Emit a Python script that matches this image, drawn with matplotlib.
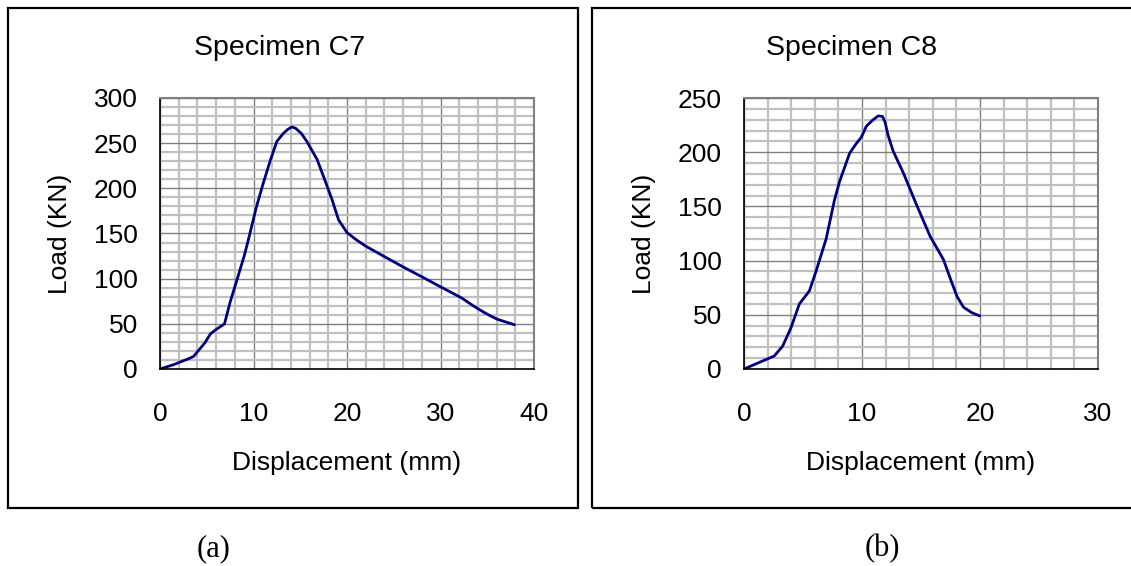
import matplotlib
matplotlib.use("Agg")
import matplotlib.pyplot as plt
from matplotlib.patches import Rectangle
from matplotlib.ticker import MultipleLocator

plt.rcParams['font.family'] = ['Liberation Sans', 'DejaVu Sans']

# Specimen C7
c7_disp = [0, 1.5, 3.2, 3.6, 4.8, 5.4, 5.9, 6.9, 7.5, 8.3, 9.0, 9.45, 10.3, 11.05,
           11.8, 12.5, 13.2, 13.7, 14.1, 14.5, 15.1, 15.7, 16.8, 17.6, 18.4, 19.1,
           20.0, 21.0, 22.0, 23.9, 26.0, 28.2, 30.0, 32.2, 33.5, 34.6, 35.4, 36.1,
           37.0, 37.9]
c7_load = [0, 5, 12, 14, 29, 39, 43, 50, 74, 101, 125, 143, 179, 206,
           231, 252, 261, 265.5, 268, 266.5, 261, 252, 232, 210, 187.5, 165,
           151, 143, 136, 125, 113, 101, 91, 79, 70, 63, 58.5, 55,
           52, 49]

# Specimen C8
c8_disp = [0, 2.56, 3.27, 3.98, 4.69, 5.54, 6.1, 6.96, 7.67, 8.1, 8.95, 9.45, 9.95,
           10.37, 10.9, 11.37, 11.73, 11.95, 12.2, 12.64, 13.5, 14.6, 15.77, 16.9,
           17.6, 18.05, 18.6, 19.3, 19.97]
c8_load = [0, 12, 21, 38, 60, 72, 90, 120, 156, 173, 199, 207, 214,
           224, 229.5, 233.5, 233, 228, 216, 201, 181, 152, 122.5, 101,
           80, 67, 57, 52, 49]

W, H = 1131, 566
fig = plt.figure(figsize=(W / 100, H / 100), dpi=100)


def box(x0, y0, x1, y1):
    # pixel box (top-left origin) -> figure fraction rect
    return [x0 / W, 1 - y1 / H, (x1 - x0) / W, (y1 - y0) / H]


# outer frames
for x0, x1 in [(8, 578), (592, 1145)]:
    r = box(x0, 8, x1, 508)
    fig.add_artist(Rectangle((r[0], r[1]), r[2], r[3], transform=fig.transFigure,
                             fill=False, edgecolor='black', linewidth=1.6))


def panel(rect, x, y, xmax, ymax, title, title_x, tag, tag_x):
    ax = fig.add_axes(box(*rect))
    ax.plot(x, y, color='#000080', linewidth=2.0, solid_capstyle='round',
            solid_joinstyle='round')
    ax.set_xlim(0, xmax)
    ax.set_ylim(0, ymax)
    ax.xaxis.set_major_locator(MultipleLocator(10))
    ax.xaxis.set_minor_locator(MultipleLocator(2))
    ax.yaxis.set_major_locator(MultipleLocator(50))
    ax.yaxis.set_minor_locator(MultipleLocator(10))
    ax.grid(which='minor', color='#c0c0c0', linewidth=1.6)
    ax.grid(which='major', color='#808080', linewidth=1.0)
    ax.set_axisbelow(True)
    ax.tick_params(which='both', length=0, labelsize=19)
    ax.tick_params(axis='x', pad=24)
    ax.tick_params(axis='y', pad=16)
    for s in ['top', 'right']:
        ax.spines[s].set_color('#808080')
        ax.spines[s].set_linewidth(1.5)
    for s in ['left', 'bottom']:
        ax.spines[s].set_color('black')
        ax.spines[s].set_linewidth(1.2)
    ax.set_xlabel('Displacement (mm)', fontsize=19, labelpad=18)
    ax.set_ylabel('Load (KN)', fontsize=19, labelpad=16)
    fig.text(title_x / W, 1 - 48 / H, title, fontsize=20.5, ha='center', va='center')
    fig.text(tag_x / W, 1 - 549 / H, tag, fontsize=22, ha='center', va='center',
             family=['Liberation Serif', 'DejaVu Serif'])
    return ax


panel((160, 98, 534, 369), c7_disp, c7_load, 40, 300, 'Specimen C7', 280, '(a)', 214)
panel((744, 98, 1098, 369), c8_disp, c8_load, 30, 250, 'Specimen C8', 852, '(b)', 882)

fig.savefig('out.png', dpi=100)
